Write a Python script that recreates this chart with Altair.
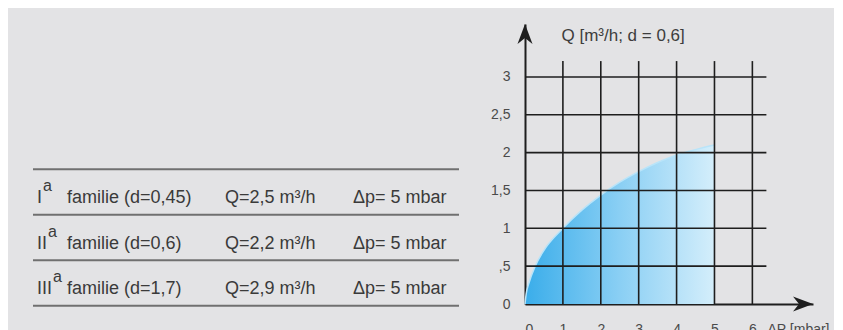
import altair as alt
import pandas as pd

# ---------------- data ----------------
DP = [0, 0.03, 0.1, 0.27, 0.5, 1, 1.5, 2, 2.5, 3, 3.5, 4, 4.5, 5]
Q = [0, 0.13, 0.27, 0.5, 0.71, 1.0, 1.24, 1.44, 1.61, 1.75, 1.87, 1.97, 2.04, 2.10]

X_TICKS = [0, 1, 2, 3, 4, 5, 6]
Y_TICKS = [0, 0.5, 1, 1.5, 2, 2.5, 3]
Y_LABELS = ["0", ",5", "1", "1,5", "2", "2,5", "3"]
X_GRID = [1, 2, 3, 4, 5, 6]
Y_GRID = [0.5, 1, 1.5, 2, 2.5, 3]

NUMERALS = ["I", "II", "III"]
DENSITY = ["0,45", "0,6", "1,7"]
FLOW = ["2,5", "2,2", "2,9"]
PRESSURE = ["5", "5", "5"]

# ---------------- styling / layout ----------------
FONT = "Liberation Sans"
BG = "#E3E3E5"
INK = "#1e1e1e"
TXT = "#3a3a3a"
W, H = 288, 280
X_MAX, Y_MAX = 7.6, 3.7
GRID_TOP, GRID_RIGHT = 3.21, 6.37
LEFT_W = 482

# ---------------- left: table ----------------
rows = pd.DataFrame({
    "row": list(range(len(NUMERALS))),
    "num": NUMERALS,
    "fam": [f"familie (d={d})" for d in DENSITY],
    "q": [f"Q={f} m³/h" for f in FLOW],
    "dp": [f"Δp= {p} mbar" for p in PRESSURE],
})
bounds = pd.DataFrame({"b": list(range(len(NUMERALS) + 1))})
yrow = alt.Scale(domain=[-3.19, 2.96], reverse=True, nice=False, zero=False)

table_rules = alt.Chart(bounds).mark_rule(color="#707070", strokeWidth=2).encode(
    y=alt.Y("b:Q", scale=yrow, axis=None),
    x=alt.value(25),
    x2=alt.value(451),
)

base_t = alt.Chart(rows).transform_calculate(mid="datum.row + 0.5")


def col(field, xpx):
    return base_t.mark_text(
        align="left", baseline="alphabetic", dy=11, fontSize=18, font=FONT, color=TXT
    ).encode(
        y=alt.Y("mid:Q", scale=yrow, axis=None),
        x=alt.value(xpx),
        text=f"{field}:N",
    )


sup = base_t.transform_calculate(ax="29 + 5*length(datum.num) + 1", sa="'a'").mark_text(
    align="left", baseline="alphabetic", dy=-1, fontSize=16, font=FONT, color=TXT
).encode(
    y=alt.Y("mid:Q", scale=yrow, axis=None),
    x=alt.X("ax:Q", scale=None, axis=None),
    text="sa:N",
)

table = alt.layer(
    table_rules, col("num", 29), sup, col("fam", 59), col("q", 217), col("dp", 345)
).properties(width=LEFT_W, height=H)

# ---------------- right: plot ----------------
curve = pd.DataFrame({"dp": DP, "q": Q})
xs = alt.Scale(domain=[0, X_MAX], nice=False, zero=False)
ys = alt.Scale(domain=[0, Y_MAX], nice=False, zero=False)

label_expr = " : ".join(
    f"datum.value == {v} ? '{s}'" for v, s in zip(Y_TICKS, Y_LABELS)
) + " : ''"

x_axis = alt.Axis(
    values=X_TICKS, grid=False, ticks=False, domain=True, domainColor=INK, domainWidth=2,
    labelFontSize=14, labelColor="#4a4a4a", labelPadding=18, labelFont=FONT,
    title="ΔP [mbar]", titleX=242, titleY=18, titleAlign="left", titleBaseline="top",
    titleAngle=0, titleFontSize=14, titleFontWeight="normal", titleColor="#4a4a4a",
    titleFont=FONT,
)
y_axis = alt.Axis(
    values=Y_TICKS, labelExpr=label_expr, grid=False, ticks=False, domain=True,
    domainColor=INK, domainWidth=2, labelFontSize=14, labelColor="#4a4a4a",
    labelPadding=15, labelFont=FONT,
    title="Q [m³/h; d = 0,6]", titleAngle=0, titleX=36, titleY=3, titleAlign="left",
    titleBaseline="top", titleFontSize=17, titleFontWeight="normal", titleColor="#3d3d3d",
    titleFont=FONT,
)

grad = alt.Gradient(
    gradient="linear",
    stops=[
        alt.GradientStop(color="#3AADEA", offset=0),
        alt.GradientStop(color="#8ACFF4", offset=0.5),
        alt.GradientStop(color="#D4EEFB", offset=1),
    ],
    x1=0, x2=1, y1=0, y2=0,
)

area = alt.Chart(curve).mark_area(color=grad, interpolate="monotone").encode(
    x=alt.X("dp:Q", scale=xs, axis=x_axis),
    y=alt.Y("q:Q", scale=ys, axis=y_axis),
)
edge = alt.Chart(curve).mark_line(color="#B9E4F9", strokeWidth=1.5, interpolate="monotone").encode(
    x=alt.X("dp:Q", scale=xs, axis=x_axis),
    y=alt.Y("q:Q", scale=ys, axis=y_axis),
)
vgrid = alt.Chart(pd.DataFrame({"gx": X_GRID})).transform_calculate(
    lo="0", hi=str(GRID_TOP)
).mark_rule(color=INK, strokeWidth=1.6).encode(
    x=alt.X("gx:Q", scale=xs, axis=x_axis),
    y=alt.Y("lo:Q", scale=ys, axis=y_axis),
    y2="hi:Q",
)
hgrid = alt.Chart(pd.DataFrame({"gy": Y_GRID})).transform_calculate(
    lo="0", hi=str(GRID_RIGHT)
).mark_rule(color=INK, strokeWidth=1.6).encode(
    y=alt.Y("gy:Q", scale=ys, axis=y_axis),
    x=alt.X("lo:Q", scale=xs, axis=x_axis),
    x2="hi:Q",
)

UP = "M0,0 L0.75,2 L0,1.4 L-0.75,2 Z"
RIGHT = "M0,0 L-2,0.75 L-1.4,0 L-2,-0.75 Z"
arrow_y = alt.Chart(pd.DataFrame({"end": ["y"]})).mark_point(
    shape=UP, size=400, filled=True, color=INK, opacity=1, strokeWidth=0
).encode(x=alt.value(0), y=alt.value(0))
arrow_x = alt.Chart(pd.DataFrame({"end": ["x"]})).mark_point(
    shape=RIGHT, size=400, filled=True, color=INK, opacity=1, strokeWidth=0
).encode(x=alt.value(W), y=alt.value(H))

plot = alt.layer(area, edge, vgrid, hgrid, arrow_y, arrow_x).properties(width=W, height=H)

chart = alt.hconcat(table, plot, spacing=0).properties(
    padding={"left": 0, "top": 16, "right": 4, "bottom": 0},
    background=BG,
).configure(font=FONT).configure_view(strokeWidth=0)

chart.save("out.html", embed_options={"renderer": "svg", "actions": False})
